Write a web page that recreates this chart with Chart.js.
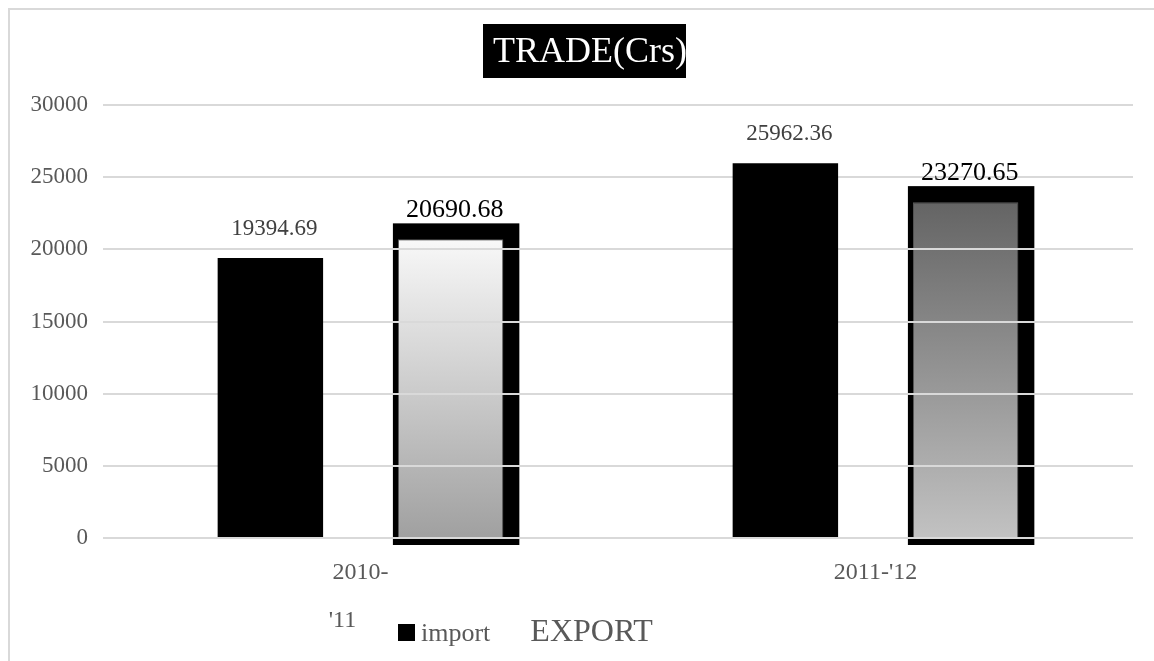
<!DOCTYPE html>
<html lang="en">
<head>
    <meta charset="UTF-8">
    <title>TRADE(Crs)</title>
    <script src="https://cdn.jsdelivr.net/npm/chart.js"></script>
    <style>
        body {
            margin: 0;
            background: #fff;
            font-family: "Liberation Serif", "Times New Roman", serif;
        }

        #frame {
            position: absolute;
            left: 8px;
            top: 8px;
            width: 1146px;
            height: 653px;
            border-left: 2px solid #d9d9d9;
            border-top: 2px solid #d9d9d9;
            box-sizing: border-box;
        }

        #chart-container {
            position: absolute;
            left: 0;
            top: 0;
            width: 1154px;
            height: 661px;
        }

        #legend {
            position: absolute;
            left: 398px;
            top: 612px;
            display: flex;
            align-items: baseline;
            color: #595959;
        }

        #legend .item {
            display: flex;
            align-items: baseline;
            margin-right: 40px;
        }

        #legend .swatch {
            display: inline-block;
            width: 17px;
            height: 17px;
            margin-right: 6px;
        }
    </style>
</head>
<body>

    <div id="frame"></div>
    <div id="chart-container">
        <canvas id="trade-chart" width="1154" height="661"></canvas>
    </div>
    <div id="legend"></div>

    <script>
        const years = [["2010-", "'11      "], "2011-'12"];
        const importValues = [19394.69, 25962.36];
        const exportValues = [20690.68, 23270.65];
        const yTicks = [0, 5000, 10000, 15000, 20000, 25000, 30000];

        const serif = "'Liberation Serif', 'Times New Roman', serif";
        const grey = '#595959';

        // top/bottom shades of the export bars, one pair per year
        const exportShades = [['#f8f8f8', '#a0a0a0'], ['#646464', '#c2c2c2']];

        function exportFill(ctx) {
            const chart = ctx.chart;
            if (!chart.chartArea || ctx.type !== 'data') return '#bbbbbb';
            const y = chart.scales.y;
            const top = y.getPixelForValue(ctx.raw);
            const bottom = y.getPixelForValue(0);
            const g = chart.ctx.createLinearGradient(0, top, 0, bottom);
            const pair = exportShades[ctx.dataIndex];
            g.addColorStop(0, pair[0]);
            g.addColorStop(1, pair[1]);
            return g;
        }

        // black frame behind export bars, grid redrawn on top of them
        const exportFrame = {
            id: 'exportFrame',
            beforeDatasetDraw(chart, args) {
                if (args.index !== 1) return;
                const ctx = chart.ctx;
                ctx.save();
                ctx.fillStyle = '#000';
                args.meta.data.forEach(bar => {
                    const p = bar.getProps(['x', 'y', 'base', 'width'], true);
                    ctx.fillRect(p.x - p.width / 2 - 5, p.y - 16, p.width + 21, p.base - p.y + 24);
                });
                ctx.restore();
            },
            afterDatasetDraw(chart, args) {
                if (args.index !== 1) return;
                chart.scales.y.drawGrid(chart.chartArea);
            }
        };

        // value labels above each bar
        const valueLabels = {
            id: 'valueLabels',
            afterDatasetsDraw(chart) {
                const ctx = chart.ctx;
                ctx.save();
                ctx.textAlign = 'center';
                ctx.textBaseline = 'middle';
                chart.data.datasets.forEach((ds, i) => {
                    const meta = chart.getDatasetMeta(i);
                    meta.data.forEach((bar, j) => {
                        const p = bar.getProps(['x', 'y'], true);
                        if (i === 0) {
                            ctx.fillStyle = '#404040';
                            ctx.font = '23px ' + serif;
                        } else {
                            ctx.fillStyle = '#000';
                            ctx.font = '26px ' + serif;
                        }
                        ctx.fillText(ds.data[j].toFixed(2), p.x + 4, p.y - 29);
                    });
                });
                ctx.restore();
            }
        };

        // title on a black box
        const boxedTitle = {
            id: 'boxedTitle',
            afterDraw(chart) {
                const ctx = chart.ctx;
                ctx.save();
                ctx.fillStyle = '#000';
                ctx.fillRect(483, 24, 203, 54);
                ctx.beginPath();
                ctx.rect(483, 24, 203, 54);
                ctx.clip();
                ctx.fillStyle = '#fff';
                ctx.font = '36px ' + serif;
                ctx.textBaseline = 'alphabetic';
                ctx.fillText('TRADE(Crs)', 493, 62);
                ctx.restore();
            }
        };

        const ctx = document.getElementById('trade-chart').getContext('2d');
        const tradeChart = new Chart(ctx, {
            type: 'bar',
            data: {
                labels: years,
                datasets: [{
                    label: 'import',
                    data: importValues,
                    backgroundColor: '#000',
                    categoryPercentage: 0.7,
                    barPercentage: 0.585
                }, {
                    label: 'EXPORT',
                    data: exportValues,
                    backgroundColor: exportFill,
                    borderColor: 'rgba(255,255,255,0.35)',
                    borderWidth: 1,
                    categoryPercentage: 0.7,
                    barPercentage: 0.585
                }]
            },
            options: {
                responsive: false,
                animation: false,
                layout: {
                    padding: { top: 105, right: 21, left: 0, bottom: 0 }
                },
                plugins: {
                    legend: { display: false },
                    title: { display: false },
                    tooltip: { enabled: false }
                },
                scales: {
                    x: {
                        grid: { display: false },
                        border: { display: false },
                        ticks: {
                            color: grey,
                            padding: 3,
                            font: { family: serif, size: 24, lineHeight: 2 }
                        },
                        afterFit(scale) { scale.height = 123; }
                    },
                    y: {
                        min: 0,
                        max: 30000,
                        border: { display: false },
                        grid: { color: '#d9d9d9', lineWidth: 2, drawTicks: false },
                        afterBuildTicks(scale) {
                            scale.ticks = yTicks.map(v => ({ value: v }));
                        },
                        ticks: {
                            color: grey,
                            padding: 15,
                            font: { family: serif, size: 23 },
                            callback: value => String(value)
                        },
                        afterFit(scale) { scale.width = 103; }
                    }
                }
            },
            plugins: [exportFrame, valueLabels, boxedTitle]
        });

        // legend: import has a black swatch, EXPORT shows its name only, set larger
        const legend = document.getElementById('legend');
        tradeChart.data.datasets.forEach((ds, i) => {
            const item = document.createElement('span');
            item.className = 'item';
            const swatch = document.createElement('span');
            swatch.className = 'swatch';
            if (i === 0) {
                swatch.style.background = '#000';
            } else {
                swatch.style.display = 'none';
            }
            const text = document.createElement('span');
            text.textContent = ds.label;
            text.style.fontSize = i === 0 ? '26px' : '32px';
            item.appendChild(swatch);
            item.appendChild(text);
            legend.appendChild(item);
        });
    </script>

</body>
</html>
